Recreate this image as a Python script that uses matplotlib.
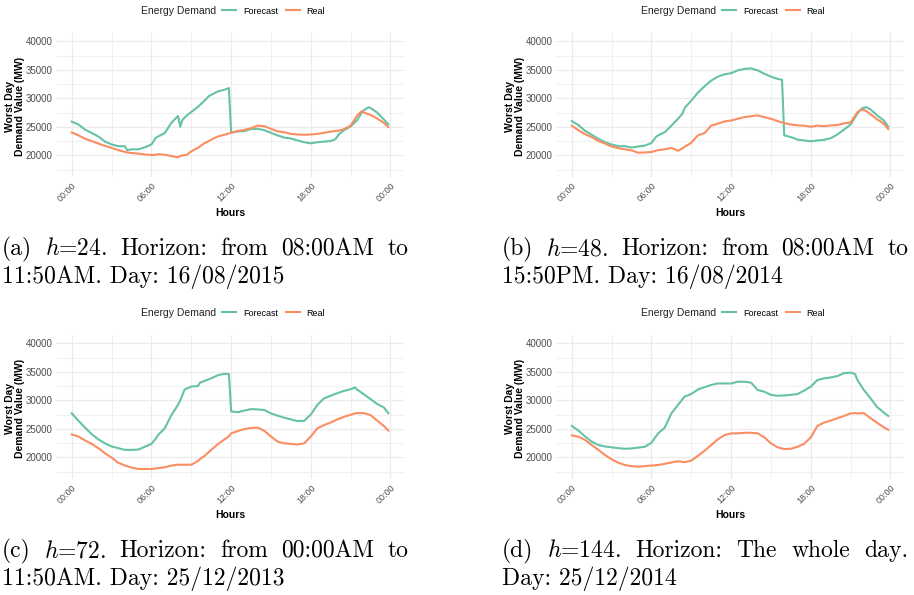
import matplotlib
matplotlib.use("Agg")
import matplotlib.pyplot as plt

# -----------------------------
# data (MW), one time list per panel
# -----------------------------
times_a = ["00:00", "00:30", "01:00", "01:30", "02:00", "02:30", "03:00", "03:30",
           "04:00", "04:10", "04:30", "05:00", "05:30", "06:00", "06:20", "06:30",
           "07:00", "07:20", "07:30", "08:00", "08:10", "08:20", "08:40", "09:00",
           "09:30", "10:00", "10:20", "10:30", "11:00", "11:30", "11:50", "12:00",
           "12:30", "13:00", "13:30", "14:00", "14:30", "15:00", "15:30", "16:00",
           "16:30", "17:00", "17:30", "18:00", "18:30", "19:00", "19:30", "19:50",
           "20:10", "20:30", "21:00", "21:30", "21:50", "22:00", "22:20", "22:30",
           "23:00", "23:30", "23:50"]
forecast_a = [25900, 25400, 24500, 23900, 23300, 22400, 21900, 21600,
              21600, 20900, 21050, 21050, 21400, 21900, 23100, 23300,
              23900, 25100, 25700, 26900, 25000, 26200, 27000, 27600,
              28500, 29600, 30400, 30600, 31200, 31500, 31800, 24000,
              24200, 24250, 24600, 24650, 24400, 23950, 23500, 23100,
              22950, 22600, 22300, 22100, 22300, 22400, 22500, 22800,
              23800, 24400, 25050, 26200, 27500, 27900, 28400, 28300,
              27500, 26300, 25450]
real_a = [24000, 23500, 22900, 22500, 22050, 21650, 21300, 20900,
          20600, 20500, 20400, 20300, 20150, 20050, 20100, 20200,
          20100, 19950, 19850, 19650, 19900, 19950, 20100, 20700,
          21300, 22150, 22500, 22750, 23300, 23600, 23850, 23950,
          24250, 24450, 24750, 25200, 25100, 24650, 24200, 24050,
          23750, 23650, 23600, 23650, 23750, 23950, 24150, 24250,
          24350, 24600, 25200, 27000, 27750, 27500, 27200, 27100,
          26450, 25700, 24950]

times_b = ["00:00", "00:30", "01:00", "01:30", "02:00", "02:30", "03:00", "03:30",
           "04:00", "04:30", "05:00", "05:30", "06:00", "06:20", "06:30", "07:00",
           "07:30", "08:00", "08:20", "08:30", "09:00", "09:30", "10:00", "10:30",
           "11:00", "11:30", "12:00", "12:30", "13:00", "13:30", "14:00", "14:30",
           "15:00", "15:30", "15:50", "16:00", "16:30", "17:00", "17:30", "18:00",
           "18:30", "19:00", "19:30", "20:00", "20:30", "21:00", "21:30", "21:50",
           "22:10", "22:30", "23:00", "23:30", "23:50"]
forecast_b = [26000, 25300, 24300, 23600, 22900, 22300, 21900, 21600,
              21600, 21350, 21550, 21700, 22150, 23200, 23500, 24050,
              25200, 26400, 27300, 28300, 29600, 31000, 32100, 33100,
              33800, 34200, 34400, 34900, 35150, 35250, 34900, 34300,
              33800, 33400, 33250, 23500, 23200, 22750, 22600, 22450,
              22600, 22700, 23000, 23650, 24500, 25400, 27300, 28200,
              28450, 28050, 27000, 26100, 25050]
real_b = [25200, 24400, 23700, 23200, 22500, 22050, 21550, 21250,
          21050, 20850, 20450, 20500, 20580, 20800, 20900, 21050,
          21300, 20800, 21200, 21500, 22200, 23500, 23900, 25200,
          25550, 25950, 26100, 26400, 26700, 26850, 27000, 26700,
          26400, 26000, 25750, 25650, 25400, 25250, 25200, 25000,
          25200, 25100, 25250, 25300, 25600, 25750, 27550, 28050,
          27800, 27200, 26300, 25550, 24600]

times_c = ["00:00", "00:30", "01:00", "01:30", "02:00", "02:30", "03:00", "03:30",
           "04:00", "04:30", "05:00", "05:30", "06:00", "06:20", "06:30", "07:00",
           "07:30", "08:00", "08:10", "08:30", "09:00", "09:30", "09:40", "10:00",
           "10:30", "11:00", "11:30", "11:50", "12:00", "12:30", "13:00", "13:30",
           "14:00", "14:30", "15:00", "15:30", "16:00", "16:30", "17:00", "17:30",
           "18:00", "18:30", "19:00", "19:30", "20:00", "20:30", "21:00", "21:20",
           "21:30", "22:00", "22:30", "23:00", "23:30", "23:50"]
forecast_c = [27700, 26400, 25200, 24050, 23150, 22450, 21900, 21600,
              21300, 21300, 21350, 21850, 22350, 23300, 23900, 25100,
              27400, 29200, 30000, 31900, 32400, 32500, 33100, 33400,
              33850, 34400, 34650, 34600, 28050, 27900, 28200, 28450,
              28400, 28300, 27700, 27300, 26950, 26650, 26350, 26400,
              27500, 29200, 30350, 30800, 31250, 31650, 31950, 32250,
              31850, 31050, 30200, 29350, 28750, 27750]
real_c = [24000, 23650, 22950, 22350, 21600, 20700, 19950, 19050,
          18550, 18200, 17950, 17950, 17950, 18050, 18100, 18250,
          18550, 18700, 18700, 18700, 18700, 19350, 19700, 20250,
          21300, 22300, 23150, 23700, 24200, 24600, 24950, 25150,
          25200, 24650, 23650, 22750, 22450, 22350, 22250, 22450,
          23650, 25100, 25650, 26100, 26650, 27100, 27450, 27700,
          27750, 27750, 27400, 26450, 25500, 24700]

times_d = ["00:00", "00:30", "01:00", "01:30", "02:00", "02:30", "03:00", "03:30",
           "04:00", "04:30", "05:00", "05:30", "06:00", "06:30", "07:00", "07:30",
           "08:00", "08:30", "09:00", "09:30", "10:00", "10:30", "11:00", "11:30",
           "12:00", "12:30", "13:00", "13:30", "14:00", "14:30", "15:00", "15:30",
           "16:00", "16:30", "17:00", "17:30", "18:00", "18:30", "19:00", "19:30",
           "20:00", "20:30", "21:00", "21:20", "21:30", "22:00", "22:30", "23:00",
           "23:30", "23:50"]
forecast_d = [25500, 24700, 23650, 22750, 22150, 21900, 21750, 21600,
              21500, 21550, 21700, 21850, 22550, 24200, 25200, 27700,
              29200, 30650, 31100, 31900, 32300, 32700, 32950, 32950,
              32950, 33250, 33250, 33100, 31800, 31500, 30950, 30800,
              30850, 30950, 31100, 31700, 32400, 33550, 33850, 34000,
              34250, 34750, 34850, 34600, 33600, 31800, 30350, 28800,
              27850, 27250]
real_d = [23850, 23600, 23050, 22150, 21300, 20400, 19650, 19050,
          18650, 18450, 18350, 18450, 18550, 18650, 18850, 19100,
          19300, 19150, 19400, 20250, 21150, 22150, 23150, 23900,
          24200, 24200, 24300, 24300, 24200, 23500, 22450, 21750,
          21450, 21500, 21850, 22350, 23500, 25500, 26100, 26450,
          26850, 27250, 27700, 27750, 27700, 27750, 26850, 26050,
          25250, 24800]

captions = [
    ("(a) $h$=24. Horizon: from 08:00AM to", "11:50AM. Day: 16/08/2015"),
    ("(b) $h$=48. Horizon: from 08:00AM to", "15:50PM. Day: 16/08/2014"),
    ("(c) $h$=72. Horizon: from 00:00AM to", "11:50AM. Day: 25/12/2013"),
    ("(d) $h$=144. Horizon: The whole day.", "Day: 25/12/2014"),
]

x_ticks = [0, 6, 12, 18, 24]
x_tick_labels = ["00:00", "06:00", "12:00", "18:00", "00:00"]
y_ticks = [20000, 25000, 30000, 35000, 40000]

GREEN = "#66C2A5"
ORANGE = "#FC8D62"
W, H = 914, 595
CAP_SIZE = 17

plt.rcParams["font.family"] = ["Liberation Sans", "DejaVu Sans"]
plt.rcParams["mathtext.fontset"] = "cm"


def to_hours(ts):
    return [int(t[:2]) + int(t[3:]) / 60 for t in ts]


def justified(fig, text, x0, x1, y, size):
    # spread the words over the full width, like a justified LaTeX line
    words = text.split(" ")
    r = fig.canvas.get_renderer()
    objs = [fig.text(0, 1 - y / H, w, fontsize=size, family="cmr10",
                     va="baseline", ha="left") for w in words]
    widths = [o.get_window_extent(r).width for o in objs]
    gap = (x1 - x0 - sum(widths)) / (len(words) - 1)
    x = x0
    for o, w in zip(objs, widths):
        o.set_x(x / W)
        x += w + gap


fig = plt.figure(figsize=(W / 100, H / 100), dpi=100)

panels = [
    (times_a, forecast_a, real_a, 0, 0),
    (times_b, forecast_b, real_b, 500, 0),
    (times_c, forecast_c, real_c, 0, 302),
    (times_d, forecast_d, real_d, 500, 302),
]

for i, (ts, fc, rl, dx, dy) in enumerate(panels):
    left, right, top, bottom = 56 + dx, 404 + dx, 33.3 + dy, 177.3 + dy
    ax = fig.add_axes([left / W, 1 - bottom / H, (right - left) / W, (bottom - top) / H])
    hrs = to_hours(ts)
    lf, = ax.plot(hrs, fc, color=GREEN, lw=1.5, solid_joinstyle="round")
    lr, = ax.plot(hrs, rl, color=ORANGE, lw=1.5, solid_joinstyle="round")
    ax.set_xlim(-1.19, 25.02)
    ax.set_ylim(16140, 41400)
    ax.set_xticks(x_ticks)
    ax.set_xticklabels(x_tick_labels)
    ax.set_xticks([3, 9, 15, 21], minor=True)
    ax.set_yticks(y_ticks)
    ax.set_yticks([17500, 22500, 27500, 32500, 37500], minor=True)
    ax.grid(which="major", color="#EBEBEB", lw=0.9)
    ax.grid(which="minor", color="#EBEBEB", lw=0.5)
    ax.set_axisbelow(True)
    for s in ax.spines.values():
        s.set_visible(False)
    ax.tick_params(which="both", length=0)
    ax.tick_params(axis="y", labelsize=7, labelcolor="#4D4D4D", pad=2.5)
    ax.tick_params(axis="x", labelsize=6.5, labelcolor="#4D4D4D", pad=3)
    for lab in ax.get_xticklabels():
        lab.set_rotation(45)
        lab.set_ha("right")
        lab.set_va("top")
        lab.set_rotation_mode("anchor")
    ax.set_xlabel("Hours", fontsize=7.5, fontweight="bold", labelpad=3)
    fig.text((15 + dx) / W, 1 - (106 + dy) / H, "Worst Day\nDemand Value (MW)",
             rotation=90, ha="center", va="center", fontsize=7.5,
             fontweight="bold", multialignment="center", linespacing=0.95)

    # legend on top, title to the left of the keys
    fig.text((216 + dx) / W, 1 - (11 + dy) / H, "Energy Demand", fontsize=7.5,
             ha="right", va="center", color="#222222")
    fig.legend([lf, lr], ["Forecast", "Real"], ncol=2, loc="center left",
               bbox_to_anchor=((222 + dx) / W, 1 - (11 + dy) / H),
               bbox_transform=fig.transFigure, frameon=False, fontsize=6.5,
               handlelength=1.55, handletextpad=0.75, columnspacing=0.9,
               borderpad=0, borderaxespad=0)

    line1, line2 = captions[i]
    cx = 2 + (500 if dx else 0)
    justified(fig, line1, cx, cx + 406, 255 + dy, CAP_SIZE)
    fig.text(cx / W, 1 - (283 + dy) / H, line2, fontsize=CAP_SIZE, family="cmr10",
             va="baseline", ha="left")

fig.savefig("out.png", dpi=100, facecolor="white")
